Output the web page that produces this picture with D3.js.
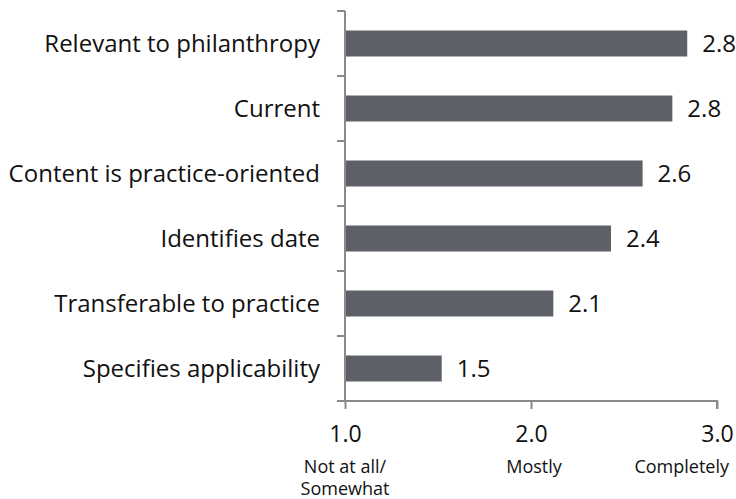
<!DOCTYPE html>
<html>
<head>
<meta charset="utf-8">
<script src="https://cdn.jsdelivr.net/npm/d3@7"></script>
<style>
  body { margin: 0; background: #fff; }
  svg { display: block; font-family: "Open Sans", sans-serif; }
</style>
</head>
<body>
<svg id="chart" width="736" height="499"></svg>
<script>
var categories = ["Relevant to philanthropy", "Current", "Content is practice-oriented",
                  "Identifies date", "Transferable to practice", "Specifies applicability"];
var values = [2.84, 2.76, 2.60, 2.43, 2.12, 1.52];
var valueLabels = ["2.8", "2.8", "2.6", "2.4", "2.1", "1.5"];
var ticks = [1, 2, 3];
var tickNames = [["Not at all/", "Somewhat"], ["Mostly"], ["Completely"]];

var svg = d3.select("#chart"),
	width = +svg.attr("width"),
	axisColor = "#8a8a8a",
	barColor = "#5e6068";

var x = d3.scaleLinear().domain([1, 3]).range([345, 717]);
var y = d3.scaleBand().domain(categories).range([11, 401]).paddingInner(0.6).paddingOuter(0.3);

// bars
svg.selectAll("rect.bar")
	.data(categories)
	.enter().append("rect")
	.attr("class", "bar")
	.attr("x", x(1))
	.attr("y", function(d) { return y(d); })
	.attr("width", function(d, i) { return x(values[i]) - x(1); })
	.attr("height", y.bandwidth())
	.attr("fill", barColor);

// value labels
svg.selectAll("text.val")
	.data(categories)
	.enter().append("text")
	.attr("class", "val")
	.attr("x", function(d, i) { return x(values[i]) + 15; })
	.attr("y", function(d) { return y(d) + y.bandwidth() / 2; })
	.attr("dy", "0.35em")
	.attr("font-size", 24)
	.attr("fill", "#111")
	.text(function(d, i) { return valueLabels[i]; });

// category labels
svg.selectAll("text.cat")
	.data(categories)
	.enter().append("text")
	.attr("class", "cat")
	.attr("x", 320)
	.attr("y", function(d) { return y(d) + y.bandwidth() / 2; })
	.attr("dy", "0.35em")
	.attr("text-anchor", "end")
	.attr("font-size", 24)
	.attr("fill", "#111")
	.text(function(d) { return d; });

// y axis line + boundary ticks
var bounds = d3.range(categories.length + 1).map(function(i) { return 11 + i * (390 / categories.length); });
svg.append("line")
	.attr("x1", x(1)).attr("x2", x(1))
	.attr("y1", bounds[0]).attr("y2", bounds[bounds.length - 1])
	.attr("stroke", axisColor).attr("stroke-width", 2);
svg.selectAll("line.ytick")
	.data(bounds)
	.enter().append("line")
	.attr("class", "ytick")
	.attr("x1", x(1) - 8).attr("x2", x(1))
	.attr("y1", function(d) { return d; }).attr("y2", function(d) { return d; })
	.attr("stroke", axisColor).attr("stroke-width", 2);

// x axis
var xAxis = d3.axisBottom(x)
	.tickValues(ticks)
	.tickSize(8)
	.tickPadding(17)
	.tickFormat(d3.format(".1f"));
var gx = svg.append("g")
	.attr("transform", "translate(0," + 401 + ")")
	.call(xAxis);
gx.select(".domain").attr("stroke", axisColor).attr("stroke-width", 2)
	.attr("d", "M" + x(1) + ",0H" + x(3) + "V8");
gx.selectAll(".tick line").attr("stroke", axisColor).attr("stroke-width", 2);
gx.selectAll(".tick text")
	.attr("font-family", "Open Sans, sans-serif")
	.attr("font-size", 23)
	.attr("fill", "#111");

// scale descriptions under tick values
tickNames.forEach(function(lines, i) {
	var last = i === tickNames.length - 1;
	var tx = last ? width - 7 : x(ticks[i]) + (i === 1 ? 3 : 0);
	var t = svg.append("text")
		.attr("x", tx)
		.attr("y", 473)
		.attr("text-anchor", last ? "end" : "middle")
		.attr("font-size", 18)
		.attr("fill", "#111");
	lines.forEach(function(l, j) {
		t.append("tspan")
			.attr("x", tx)
			.attr("dy", j === 0 ? 0 : 22)
			.text(l);
	});
});
</script>
</body>
</html>
